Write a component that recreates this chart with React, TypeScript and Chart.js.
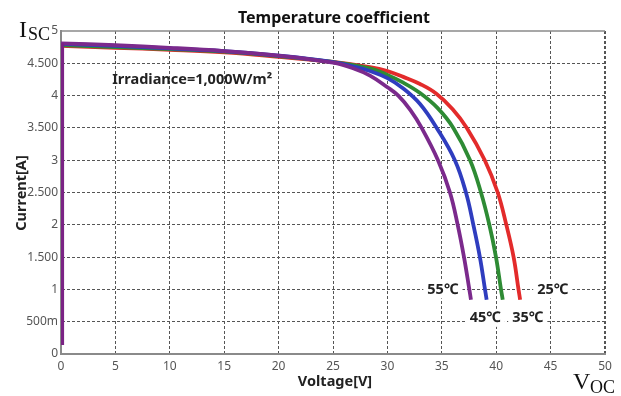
import React, { useEffect, useRef } from "react";
import { Chart, registerables } from "chart.js";

Chart.register(...registerables);

// ---- Data ----
const voltageTicks = [0, 5, 10, 15, 20, 25, 30, 35, 40, 45, 50];
const currentTicks = [0, 0.5, 1, 1.5, 2, 2.5, 3, 3.5, 4, 4.5, 5];
const currentTickLabels = ["0", "500m", "1", "1.500", "2", "2.500", "3", "3.500", "4", "4.500", "5"];

const seriesNames = ["55℃", "45℃", "35℃", "25℃"];

// Voltage [V] / Current [A] pairs for each temperature
const v55 = [0, 5, 10, 15, 20, 25, 26.9, 28.4, 30, 31.0, 32.1, 33.15, 34.65, 35.75, 36.46, 37.04, 37.53, 37.68];
const i55 = [4.81, 4.78, 4.74, 4.69, 4.62, 4.51, 4.42, 4.31, 4.13, 4.0, 3.78, 3.5, 3.0, 2.5, 2.0, 1.5, 1.0, 0.84];

const v45 = [0, 5, 10, 15, 20, 25, 26.9, 28.4, 30, 31.46, 33, 34.53, 36.2, 37.22, 37.9, 38.5, 38.97, 39.12];
const i45 = [4.80, 4.77, 4.73, 4.69, 4.62, 4.52, 4.45, 4.38, 4.27, 4.11, 3.87, 3.5, 3.0, 2.5, 2.0, 1.5, 1.0, 0.84];

const v35 = [0, 5, 10, 15, 20, 25, 28.4, 30, 31.46, 33, 34.6, 36.06, 37.6, 38.6, 39.37, 39.98, 40.44, 40.6];
const i35 = [4.78, 4.75, 4.72, 4.68, 4.61, 4.52, 4.42, 4.32, 4.20, 4.04, 3.81, 3.5, 3.0, 2.5, 2.0, 1.5, 1.0, 0.84];

const v25 = [0, 5, 10, 15, 20, 25, 28.4, 30, 31.46, 33, 34.5, 36.0, 37.3, 38.95, 40.14, 40.93, 41.6, 42.05, 42.2];
const i25 = [4.77, 4.74, 4.71, 4.67, 4.60, 4.52, 4.44, 4.38, 4.29, 4.18, 4.03, 3.79, 3.5, 3.0, 2.5, 2.0, 1.5, 1.0, 0.84];

// vertical rise at V = 0 (short-circuit side)
const vRise = [0.1, 0.1];
const iRise = [0.14, 4.81];

const seriesColors = ["#7b2a8c", "#2f3dbf", "#2e8b34", "#e32b2b"];

// label anchor positions (data coords)
const labelV = [35.1, 39.0, 42.9, 45.2];
const labelI = [1.0, 0.56, 0.56, 1.0];

const toPts = (xs: number[], ys: number[]) => xs.map((x, k) => ({ x, y: ys[k] }));

export default function App() {
  const ref = useRef<HTMLCanvasElement | null>(null);

  useEffect(() => {
    if (!ref.current) return;
    const FONT = "'Noto Sans', 'Open Sans', sans-serif";

    const extras = {
      id: "extras",
      afterDraw(chart: any) {
        const { ctx, chartArea } = chart;
        const xs = chart.scales.x;
        const ys = chart.scales.y;
        ctx.save();
        // top border
        ctx.strokeStyle = "#8a8a8a";
        ctx.lineWidth = 1.5;
        ctx.beginPath();
        ctx.moveTo(chartArea.left, chartArea.top);
        ctx.lineTo(chartArea.right, chartArea.top);
        ctx.stroke();

        // title
        ctx.fillStyle = "#111";
        ctx.textAlign = "center";
        ctx.textBaseline = "middle";
        ctx.font = `bold 16px ${FONT}`;
        ctx.fillText("Temperature coefficient", 334, 18);

        // axis titles
        ctx.font = `bold 14.5px ${FONT}`;
        ctx.fillStyle = "#222";
        ctx.fillText("Voltage[V]", 335, 382);
        ctx.save();
        ctx.translate(22, 193);
        ctx.rotate(-Math.PI / 2);
        ctx.fillText("Current[A]", 0, 0);
        ctx.restore();

        // irradiance
        ctx.textAlign = "left";
        ctx.font = `bold 14.5px ${FONT}`;
        ctx.fillStyle = "#222";
        ctx.fillText("Irradiance=1,000W/m²", xs.getPixelForValue(4.7), ys.getPixelForValue(4.24));

        // temperature labels with white boxes
        ctx.textAlign = "center";
        ctx.font = `bold 14.5px ${FONT}`;
        seriesNames.forEach((name, k) => {
          const px = xs.getPixelForValue(labelV[k]);
          const py = ys.getPixelForValue(labelI[k]);
          const w = ctx.measureText(name).width + 8;
          ctx.fillStyle = "#fff";
          ctx.fillRect(px - w / 2, py - 9, w, 18);
          ctx.fillStyle = "#222";
          ctx.fillText(name, px, py);
        });

        // I_SC and V_OC
        ctx.fillStyle = "#111";
        ctx.textAlign = "left";
        ctx.textBaseline = "alphabetic";
        ctx.font = `24px 'Liberation Serif', 'DejaVu Serif', serif`;
        ctx.fillText("I", 19, 37);
        ctx.font = `18px 'Liberation Serif', 'DejaVu Serif', serif`;
        ctx.fillText("SC", 28, 40);
        ctx.font = `24px 'Liberation Serif', 'DejaVu Serif', serif`;
        ctx.fillText("V", 573, 389);
        ctx.font = `18px 'Liberation Serif', 'DejaVu Serif', serif`;
        ctx.fillText("OC", 590, 393);
        ctx.restore();
      },
    };

    const curveSets = [
      toPts(v55, i55),
      toPts(v45, i45),
      toPts(v35, i35),
      toPts(v25, i25),
    ];

    const datasets: any[] = [
      {
        label: "rise",
        data: toPts(vRise, iRise),
        borderColor: "#7a2384",
        borderWidth: 4,
        pointRadius: 0,
        showLine: true,
        order: 0,
      },
      ...curveSets.map((pts, k) => ({
        label: seriesNames[k],
        data: pts,
        borderColor: seriesColors[k],
        borderWidth: 3.8,
        pointRadius: 0,
        showLine: true,
        tension: 0.4,
        order: k + 1,
      })),
    ];

    const chart = new Chart(ref.current, {
      type: "scatter",
      data: { datasets },
      options: {
        animation: false,
        responsive: false,
        maintainAspectRatio: false,
        layout: { padding: { top: 31, right: 16, left: 0, bottom: 0 } },
        plugins: { legend: { display: false }, tooltip: { enabled: false }, title: { display: false } },
        scales: {
          x: {
            type: "linear",
            min: 0,
            max: 50,
            afterFit: (s: any) => { s.height = 42; },
            afterBuildTicks: (s: any) => { s.ticks = voltageTicks.map((v) => ({ value: v })); },
            ticks: {
              color: "#555",
              font: { family: FONT, size: 12 },
              padding: 5,
              maxRotation: 0,
              callback: (v: any) => String(v),
            },
            grid: {
              color: (c: any) => (c.tick && c.tick.value === 0 ? "rgba(0,0,0,0)" : "#555"),
              lineWidth: (c: any) => (c.tick && c.tick.value === 50 ? 2 : 1),
              drawTicks: false,
            },
            border: { display: true, color: "#8a8a8a", width: 2, dash: [3, 2] },
          },
          y: {
            type: "linear",
            min: 0,
            max: 5,
            afterFit: (s: any) => { s.width = 61; },
            afterBuildTicks: (s: any) => { s.ticks = currentTicks.map((v) => ({ value: v })); },
            ticks: {
              color: "#555",
              font: { family: FONT, size: 12 },
              padding: 3,
              callback: (_v: any, idx: number) => currentTickLabels[idx],
            },
            grid: {
              color: (c: any) => (c.tick && (c.tick.value === 0 || c.tick.value === 5) ? "rgba(0,0,0,0)" : "#555"),
              lineWidth: 1,
              drawTicks: false,
            },
            border: { display: true, color: "#8a8a8a", width: 2, dash: [3, 2] },
          },
        },
      },
      plugins: [extras],
    } as any);

    return () => chart.destroy();
  }, []);

  return (
    <div style={{ position: "fixed", left: 0, top: 0, width: 621, height: 396, background: "#fff" }}>
      <canvas ref={ref} width={621} height={396} style={{ display: "block", width: 621, height: 396 }} />
    </div>
  );
}
